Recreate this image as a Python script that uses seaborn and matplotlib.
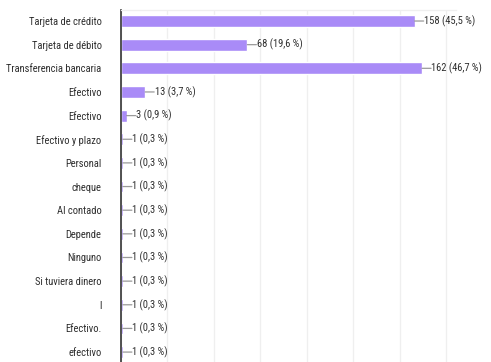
import matplotlib
matplotlib.use("Agg")
import matplotlib.pyplot as plt
from matplotlib import font_manager
import seaborn as sns
import pandas as pd

# Responses: payment method, count, share of respondents
labels = [
    "Tarjeta de crédito", "Tarjeta de débito", "Transferencia bancaria",
    "Efectivo", "Efectivo", "Efectivo y plazo", "Personal", "cheque",
    "Al contado", "Depende", "Ninguno", "Si tuviera dinero", "l",
    "Efectivo.", "efectivo",
]
counts = [158, 68, 162, 13, 3, 1, 1, 1, 1, 1, 1, 1, 1, 1, 1]
percents = ["45,5", "19,6", "46,7", "3,7", "0,9", "0,3", "0,3", "0,3",
            "0,3", "0,3", "0,3", "0,3", "0,3", "0,3", "0,3"]

sns.set_theme(style="white")

# prefer a narrow sans face when one is installed
installed = {(f.name, f.stretch) for f in font_manager.fontManager.ttflist}
names = {n for n, _ in installed}
family, stretch = "Liberation Sans", "normal"
for cand in ("Liberation Sans Narrow", "Arial Narrow", "Roboto Condensed",
             "Open Sans Condensed"):
    if cand in names:
        family = cand
        break
else:
    if ("DejaVu Sans", "condensed") in installed:
        family, stretch = "DejaVu Sans", "condensed"
plt.rcParams["font.family"] = [family, "DejaVu Sans"]
plt.rcParams["font.stretch"] = stretch

BAR = "#a98bf7"
TXT = "#2e2e2e"
GRID = "#efefef"

W, H = 491, 362
fig = plt.figure(figsize=(W / 100, H / 100), dpi=100)

# pick a type size so the longest category name spans about 102 px
renderer = fig.canvas.get_renderer()
probe = fig.text(0, 0, "Transferencia bancaria", fontsize=10)
fs = 10 * 95 / probe.get_window_extent(renderer).width
probe.remove()

df = pd.DataFrame({"row": list(range(len(labels))), "count": counts})

ax = fig.add_axes([121 / W, 0, (455.5 - 121) / W, 352 / H])

sns.barplot(data=df, x="count", y="row", orient="h", color=BAR,
            width=0.5, saturation=1, ax=ax, zorder=2)

ax.set_xlim(0, 180)
ax.set_ylim(14.42, -0.466)
ax.set_xticks(range(0, 180, 25))
ax.xaxis.grid(True, color=GRID, lw=0.9, zorder=0)
ax.set_axisbelow(True)
ax.tick_params(axis="x", bottom=False, labelbottom=False)
ax.tick_params(axis="y", left=False, pad=8)
ax.set_yticks(range(len(labels)))
ax.set_yticklabels(labels, fontsize=fs, color=TXT)
ax.set_xlabel("")
ax.set_ylabel("")

for side in ("right", "bottom"):
    ax.spines[side].set_visible(False)
ax.spines["top"].set_color(GRID)
ax.spines["top"].set_linewidth(0.9)
ax.spines["left"].set_color("#333333")
ax.spines["left"].set_linewidth(1.2)

for i, (c, p) in enumerate(zip(counts, percents)):
    ax.annotate("", xy=(c, i), xytext=(6.5, 0), textcoords="offset points",
                arrowprops=dict(arrowstyle="-", color="#9a9a9a", lw=0.9,
                                shrinkA=0, shrinkB=0), annotation_clip=False)
    ax.annotate(f"{c} ({p} %)", xy=(c, i), xytext=(6.8, 0),
                textcoords="offset points", va="center", ha="left",
                fontsize=fs, color=TXT, annotation_clip=False)

fig.savefig("out.png", dpi=100, facecolor="white")
